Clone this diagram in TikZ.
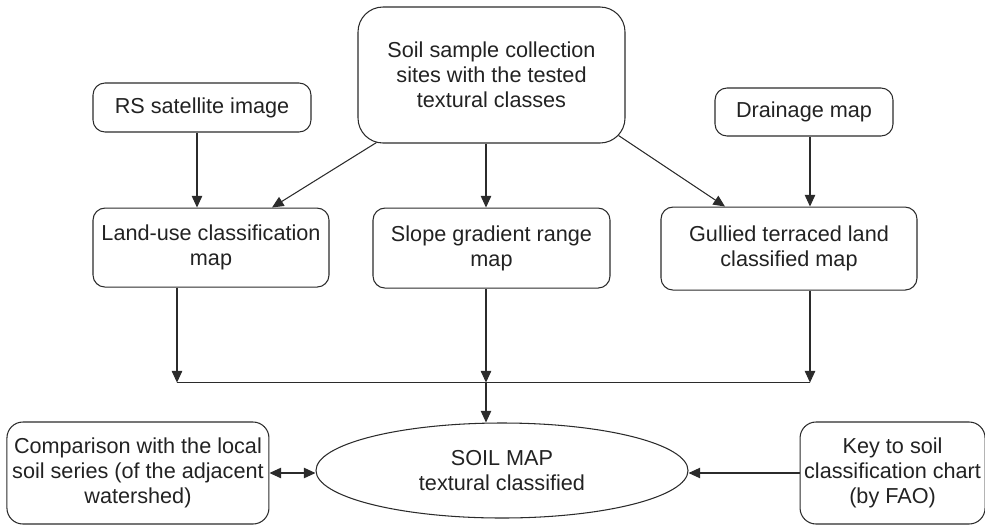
\documentclass[tikz,border=0pt]{standalone}
\usepackage{fontspec}
\setmainfont{Liberation Sans}
\usepackage{tikz}
\usetikzlibrary{arrows.meta,positioning,shapes.geometric,calc}
\definecolor{lineGray}{HTML}{2B2B2B}
\definecolor{textGray}{HTML}{222222}
\newcommand\diagfont{\fontsize{15.4}{17.8}\selectfont}
\tikzset{
  mapbox/.style={draw=lineGray, line width=0.75pt, rounded corners=#1, align=center, font=\diagfont\color{textGray}, inner sep=0pt},
  mapellipse/.style={ellipse, draw=lineGray, line width=0.75pt, align=center, font=\diagfont\color{textGray}, inner sep=0pt},
  flowarr/.style={-{Triangle[length=2.9mm, width=2.6mm]}, line width=0.75pt, draw=lineGray},
  flowline/.style={line width=0.75pt, draw=lineGray},
}

\begin{document}
\begin{tikzpicture}[node distance=3mm]
\useasboundingbox (0,0) rectangle (24.625,-13.125);

\node[mapbox=6.25mm, minimum width=6.675cm, minimum height=3.4cm] (soil) at (12.2875,-1.875) {Soil sample collection\\sites with the tested\\textural classes};
\node[mapbox=3mm, minimum width=5.45cm, minimum height=1.225cm] (rs) at (5.05,-2.6875) {RS satellite image};
\node[mapbox=3mm, minimum width=4.45cm, minimum height=1.2cm] (drain) at (20.1,-2.8) {Drainage map};

\node[mapbox=3mm, minimum width=5.9cm, minimum height=1.975cm, below=1.875cm of rs, xshift=0.225cm] (landuse) {Land-use classification\\map};
\node[mapbox=3mm, minimum width=5.925cm, minimum height=2.0cm, below=1.6cm of soil] (slope) {Slope gradient range\\map};
\node[mapbox=3mm, minimum width=6.4cm, minimum height=2.075cm, below=1.75cm of drain, xshift=-0.375cm] (gullied) {Gullied terraced land\\classified map};

\node[mapellipse, minimum width=9.3cm, minimum height=2.375cm] (soilmap) at (12.55,-11.7625) {SOIL MAP\\textural classified};
\node[mapbox=4mm, minimum width=6.55cm, minimum height=2.55cm, left=1.15cm of soilmap, yshift=-0.0625cm] (comp) {Comparison with the local\\soil series (of the adjacent\\watershed)};
\node[mapbox=4mm, minimum width=4.625cm, minimum height=2.55cm, right=2.775cm of soilmap, yshift=-0.0625cm] (key) {Key to soil\\classification chart\\(by FAO)};

% junction line
\coordinate (jleft) at ($(landuse.south)+(-0.85,-2.375)$);
\coordinate (jmid) at (jleft -| {$(slope.south)+(-0.1375,0)$});
\coordinate (jright) at (jleft -| {$(gullied.south)+(0.525,0)$});

% arrows into the map layers
\draw[flowarr] ([xshift=-0.125cm]rs.south) -- ([xshift=-0.125cm]rs.south |- landuse.north);
\draw[flowarr] ([xshift=0.15cm]drain.south) -- ([xshift=0.15cm]drain.south |- gullied.north);
\draw[flowarr] ([xshift=-0.1375cm]soil.south) -- ([xshift=-0.1375cm]slope.north);
\draw[flowarr] ($(soil.south west)+(0.475,0.025)$) -- ([xshift=1.525cm]landuse.north);
\draw[flowarr] ($(soil.south east)+(-0.175,0.2)$) -- ([xshift=-1.6cm]gullied.north);

% arrows down to the junction
\draw[flowarr] (landuse.south -| jleft) -- (jleft);
\draw[flowarr] (slope.south -| jmid) -- (jmid);
\draw[flowarr] (gullied.south -| jright) -- (jright);
\draw[flowline] (jleft) -- (jright);
\draw[flowarr] (jmid) -- (jmid |- soilmap.north);

% side links
\draw[flowarr, {Triangle[length=2.9mm, width=2.6mm]}-{Triangle[length=2.9mm, width=2.6mm]}] (comp.east) -- (comp.east -| soilmap.west);
\draw[flowarr] (key.west) -- (key.west -| soilmap.east);
\end{tikzpicture}
\end{document}
